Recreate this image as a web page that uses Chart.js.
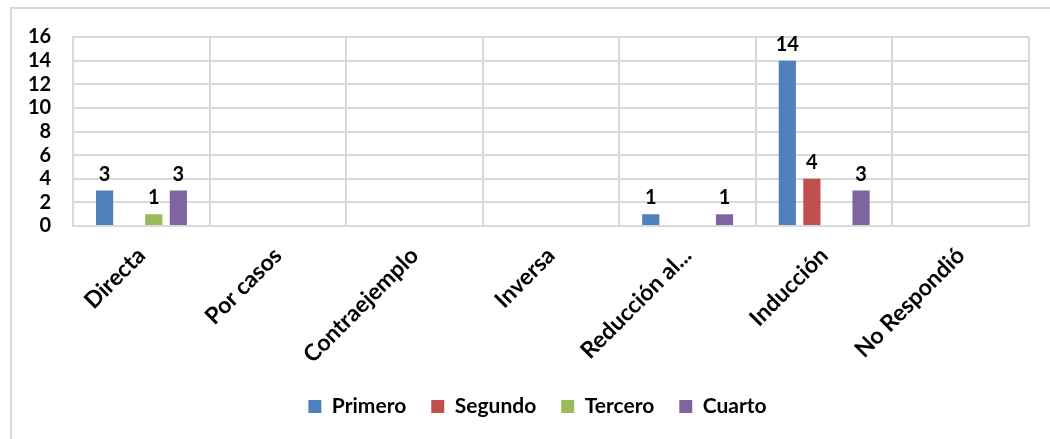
<!DOCTYPE html>
<html>
<head>
<meta charset="utf-8">
<script src="https://cdn.jsdelivr.net/npm/chart.js@4"></script>
<style>
    html, body { margin: 0; padding: 0; background: #fff; overflow: hidden; }
    #frame {
        position: absolute; left: 10px; top: 7px; width: 1060px; height: 460px;
        border: 2px solid #d9d9d9; box-sizing: border-box;
    }
    #wrap { position: absolute; left: 0; top: 0; width: 1050px; height: 439px; }
</style>
</head>
<body>
<div id="frame"></div>
<div id="wrap"><canvas id="demoChart"></canvas></div>
<script>
// Tipos de demostración por curso
const categorias = ['Directa', 'Por casos', 'Contraejemplo', 'Inversa', 'Reducción al...', 'Inducción', 'No Respondió'];
const primero = [3, 0, 0, 0, 1, 14, 0];
const segundo = [0, 0, 0, 0, 0, 4, 0];
const tercero = [1, 0, 0, 0, 0, 0, 0];
const cuarto = [3, 0, 0, 0, 1, 3, 0];
const ejeY = [0, 2, 4, 6, 8, 10, 12, 14, 16];

const FUENTE = 'Lato, "Open Sans", sans-serif';

// Etiquetas de valor encima de cada barra (solo valores distintos de cero)
const etiquetasValor = {
    id: 'etiquetasValor',
    afterDatasetsDraw(chart) {
        const ctx = chart.ctx;
        ctx.save();
        ctx.font = 'bold 20px ' + FUENTE;
        ctx.fillStyle = '#000';
        ctx.textAlign = 'center';
        ctx.textBaseline = 'alphabetic';
        chart.data.datasets.forEach((ds, i) => {
            const meta = chart.getDatasetMeta(i);
            meta.data.forEach((bar, j) => {
                const v = ds.data[j];
                if (!v) return;
                ctx.fillText(String(v), bar.x, bar.y - 10);
            });
        });
        ctx.restore();
    }
};

// Desplaza la leyenda para centrarla bajo el área de trazado
const moverLeyenda = {
    id: 'moverLeyenda',
    afterLayout(chart) {
        if (!chart.legend) return;
        chart.legend.left += 20;
        chart.legend.right += 20;
    }
};

function serie(nombre, datos, color) {
    return {
        label: nombre,
        data: datos,
        backgroundColor: color,
        categoryPercentage: 0.72,
        barPercentage: 0.7
    };
}

const ctx = document.getElementById('demoChart');
new Chart(ctx, {
    type: 'bar',
    data: {
        labels: categorias,
        datasets: [
            serie('Primero', primero, '#4F81BD'),
            serie('Segundo', segundo, '#C0504D'),
            serie('Tercero', tercero, '#9BBB59'),
            serie('Cuarto', cuarto, '#8064A2')
        ]
    },
    options: {
        responsive: true,
        maintainAspectRatio: false,
        animation: false,
        layout: {
            padding: { left: 6, right: 21, top: 37, bottom: 12 }
        },
        plugins: {
            legend: {
                position: 'bottom',
                labels: {
                    boxWidth: 13,
                    boxHeight: 13,
                    padding: 25,
                    color: '#000',
                    font: { family: FUENTE, size: 21, weight: 'bold' }
                }
            },
            tooltip: { enabled: false }
        },
        scales: {
            x: {
                // altura fija del eje x, sin relleno lateral por las etiquetas giradas
                afterFit(axis) {
                    axis.height = 145;
                    axis.paddingLeft = 0;
                    axis.paddingRight = 0;
                },
                grid: { color: '#d9d9d9', lineWidth: 2, drawTicks: false },
                border: { color: '#d9d9d9', width: 2 },
                ticks: {
                    color: '#000',
                    maxRotation: 45,
                    minRotation: 45,
                    padding: 16,
                    font: { family: FUENTE, size: 23, weight: 'bold' }
                }
            },
            y: {
                min: 0,
                max: 16,
                afterBuildTicks(axis) {
                    axis.ticks = ejeY.map(v => ({ value: v }));
                },
                grid: { color: '#d9d9d9', lineWidth: 2, drawTicks: false },
                border: { color: '#d9d9d9', width: 2 },
                ticks: {
                    autoSkip: false,
                    color: '#000',
                    padding: 22,
                    font: { family: FUENTE, size: 20, weight: 'bold' }
                }
            }
        }
    },
    plugins: [etiquetasValor, moverLeyenda]
});
</script>
</body>
</html>
